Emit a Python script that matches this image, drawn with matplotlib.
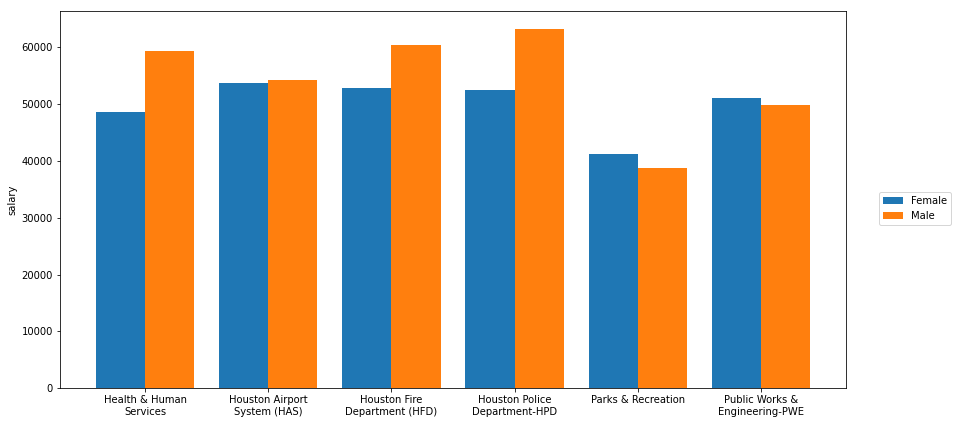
import numpy as np
import matplotlib
matplotlib.use("Agg")
import matplotlib.pyplot as plt

# department averages
departments = [
    "Health & Human\nServices",
    "Houston Airport\nSystem (HAS)",
    "Houston Fire\nDepartment (HFD)",
    "Houston Police\nDepartment-HPD",
    "Parks & Recreation",
    "Public Works &\nEngineering-PWE",
]
female = [48710, 53800, 52925, 52575, 41155, 51170]
male = [59425, 54330, 60480, 63290, 38700, 49940]

plt.rcParams["font.size"] = 10

fig = plt.figure(figsize=(953 / 72, 424 / 72), dpi=72)
ax = fig.add_axes([60 / 953, 1 - 388.3 / 424, 786 / 953, 377.6 / 424])

x = np.arange(len(departments))
w = 0.4
ax.bar(x - w / 2, female, w, color="#1f77b4", label="Female")
ax.bar(x + w / 2, male, w, color="#ff7f0e", label="Male")

ax.set_xticks(x)
ax.set_xticklabels(departments)
ax.set_ylabel("salary")
ax.legend(loc="center left", bbox_to_anchor=(1.0416, 0.4756), borderaxespad=0)

fig.savefig("out.png", dpi=72)
